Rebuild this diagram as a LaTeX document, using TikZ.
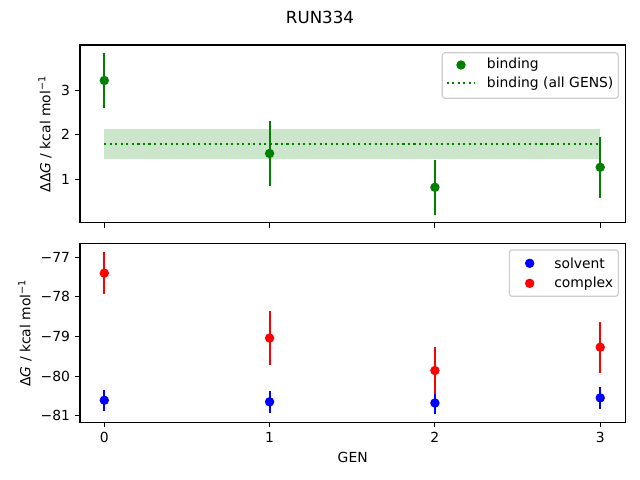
\documentclass[tikz,border=0pt]{standalone}
\usepackage{fontspec}
\setmainfont{DejaVu Sans}
\definecolor{mgreen}{HTML}{008000}
\definecolor{mblue}{HTML}{0000FF}
\definecolor{mred}{HTML}{FF0000}
\definecolor{lgray}{HTML}{CCCCCC}
\tikzset{
  dot/.style={circle, inner sep=0pt, minimum size=6.8pt, draw=none},
  ebar/.style={line width=1.5pt},
  spine/.style={line width=0.8pt, line join=miter},
  tickmark/.style={line width=0.8pt},
  txt/.style={font=\fontsize{10}{12}\selectfont, inner sep=0pt},
  legbox/.style={draw=lgray, line width=0.8pt, fill=white, fill opacity=0.8, rounded corners=2pt},
  avgline/.style={mgreen, line width=1.5pt, dash pattern=on 1.5pt off 2.475pt}
}
\begin{document}
\begin{tikzpicture}[x=0.72pt, y=-0.72pt]
\useasboundingbox (0,0) rectangle (640,480);
% title
\node[txt, font=\fontsize{12}{14}\selectfont] (title) at (320,17) {RUN334};
% ---------- top axes ----------
\begin{scope}[shift={(104.3,223.8)}, x=119.02pt, y=32.04pt]
  \fill[mgreen, opacity=0.2] (0,1.45) rectangle (3,2.13);
  \draw[avgline] (0,1.79) -- (3,1.79);
  \foreach \i/\v/\e in {0/3.22/0.61, 1/1.58/0.73, 2/0.82/0.62, 3/1.27/0.69}{
    \draw[ebar, mgreen] (\i,\v+\e) -- (\i,\v-\e);
    \node[dot, fill=mgreen] (b\i) at (\i,\v) {};
  }
\end{scope}
\draw[spine] (80,45) rectangle (625.5,222.7);
\foreach \x in {104.3,269.6,434.9,600.2}
  \draw[tickmark] (\x,222.7) -- (\x,227.6);
\foreach \v/\y in {1/179.3,2/134.8,3/90.3}{
  \draw[tickmark] (80,\y) -- (75.1,\y);
  \node[txt, anchor=east] (tl\v) at (70.3,\y) {\v};
}
\node[txt, rotate=90] (ylab1) at (45,134) {ΔΔ\textit{G} / kcal mol\textsuperscript{−1}};
% top legend
\draw[legbox] (442.3,52.7) rectangle (618.3,98.3);
\node[dot, fill=mgreen] (lgb) at (461,65) {};
\node[txt, anchor=west] (lgbt) at (486.7,65) {binding};
\coordinate (lga) at (446.7,83.3);
\coordinate (lgb2) at (475,83.3);
\draw[avgline] (lga) -- (lgb2);
\node[txt, anchor=west] (lgat) at (486.7,83.3) {binding (all GENS)};
% ---------- bottom axes ----------
\begin{scope}[shift={(104.3,257.3)}, x=119.02pt, y=28.51pt]
  \foreach \i/\v/\e in {0/-3.61/0.27, 1/-3.65/0.27, 2/-3.68/0.27, 3/-3.55/0.28}{
    \draw[ebar, mblue] (\i,\v+\e) -- (\i,\v-\e);
    \node[dot, fill=mblue] (s\i) at (\i,\v) {};
  }
  \foreach \i/\v/\e in {0/-0.40/0.53, 1/-2.04/0.69, 2/-2.86/0.59, 3/-2.27/0.64}{
    \draw[ebar, mred] (\i,\v+\e) -- (\i,\v-\e);
    \node[dot, fill=mred] (c\i) at (\i,\v) {};
  }
\end{scope}
\draw[spine] (80,243.3) rectangle (625.5,422.3);
\foreach \x/\l in {104.3/0,269.6/1,434.9/2,600.2/3}{
  \draw[tickmark] (\x,422.3) -- (\x,427.2);
  \node[txt, anchor=north] (xl\l) at (\x,432) {\l};
}
\foreach \v/\y in {77/257.3,78/296.9,79/336.5,80/376.1,81/415.7}{
  \draw[tickmark] (80,\y) -- (75.1,\y);
  \node[txt, anchor=east] (bl\v) at (70.3,\y) {−\v};
}
\node[txt, rotate=90] (ylab2) at (25,333) {Δ\textit{G} / kcal mol\textsuperscript{−1}};
\node[txt] (xlab) at (352.7,457) {GEN};
% bottom legend
\draw[legbox] (509.3,250) rectangle (618.3,296.3);
\node[dot, fill=mblue] (lgs) at (529.7,263.3) {};
\node[txt, anchor=west] (lgst) at (554,263.3) {solvent};
\node[dot, fill=mred] (lgc) at (529.7,283.3) {};
\node[txt, anchor=west] (lgct) at (554,283.3) {complex};
\end{tikzpicture}
\end{document}
